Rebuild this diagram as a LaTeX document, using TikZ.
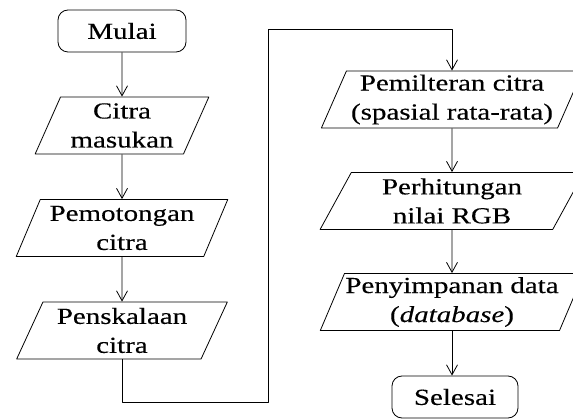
\documentclass[tikz,border=0pt]{standalone}
\usepackage{fontspec}
\setmainfont[FakeStretch=1.26,FakeBold=0.3]{Liberation Serif}
\usetikzlibrary{shapes.geometric,arrows.meta}

\begin{document}
\begin{tikzpicture}[x=1pt, y=-1pt, line join=round, line width=0.8pt, font=\fontsize{23}{29}\selectfont, >={Straight Barb[length=10pt,width=11pt]},
	terminal/.style={draw, rounded corners=10pt, minimum width=128pt, minimum height=42pt, inner sep=0pt},
	io/.style={draw, trapezium, trapezium left angle=65, trapezium right angle=115, trapezium stretches=true, minimum height=57pt, inner sep=1pt, align=center}]
	\useasboundingbox (0,0) rectangle (573,419);

% kolom kiri
\node[terminal] (mulai) at (122,31) {Mulai};
\node[io, minimum width=174pt] (masukan) at (122,125.5) {Citra\\masukan};
\node[io, minimum width=212pt] (potong) at (122,228) {Pemotongan\\citra};
\node[io, minimum width=211pt] (skala) at (122,330.5) {Penskalaan\\citra};

% kolom kanan
\node[io, minimum width=262pt] (filter) at (452,99.5) {Pemilteran citra\\(spasial rata-rata)};
\node[io, minimum width=264pt] (rgb) at (452,201) {Perhitungan\\nilai RGB};
\node[io, minimum width=264pt] (simpan) at (452,302) {Penyimpanan data\\(\textit{database})};
\node[terminal, minimum width=126pt] (selesai) at (455,397) {Selesai};

\path (268,402)coordinate(balikbawah) (268,29)coordinate(balikatas);

\draw[->] (mulai)--(masukan);
\draw[->] (masukan)--(potong);
\draw[->] (potong)--(skala);
\draw[->] (skala.south) |- (balikbawah) -- (balikatas) -| (filter.north);
\draw[->] (filter)--(rgb);
\draw[->] (rgb)--(simpan);
\draw[->] (simpan.south)--(simpan.south |- selesai.north);
\end{tikzpicture}
\end{document}
